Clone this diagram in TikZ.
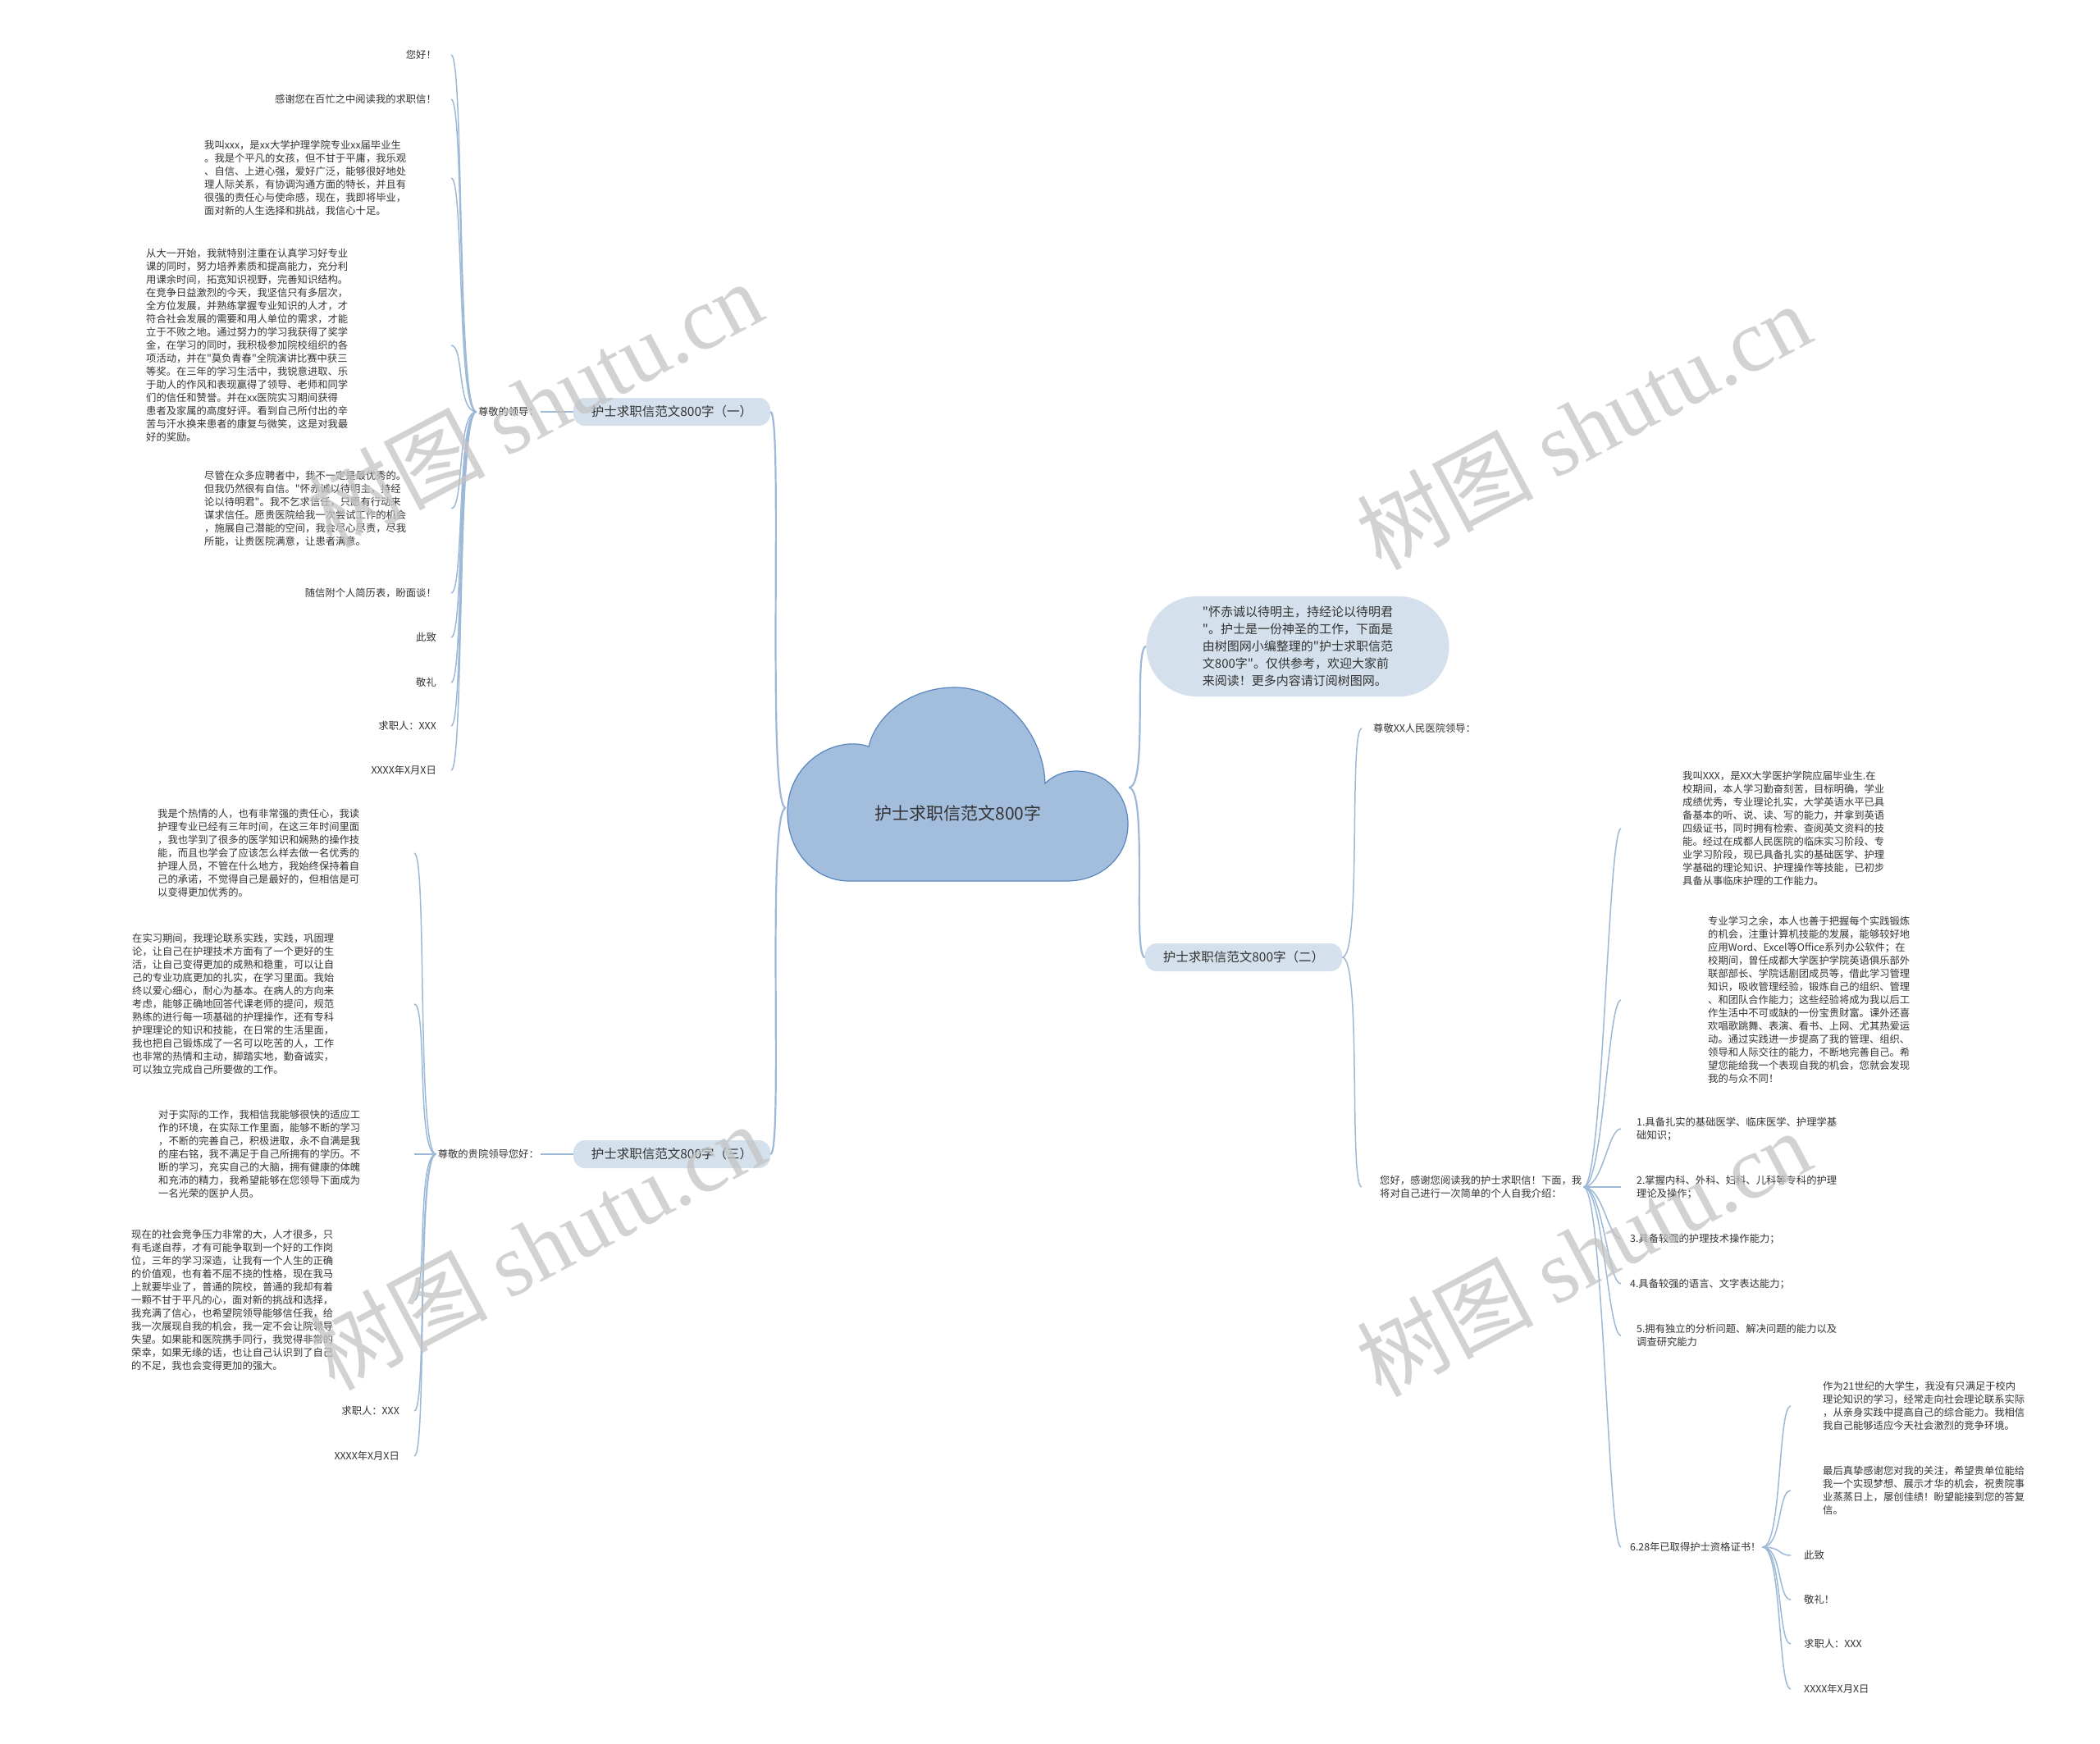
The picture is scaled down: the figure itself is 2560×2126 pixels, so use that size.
\documentclass[tikz,border=0pt]{standalone}
\usepackage{fontspec}
\newfontfamily\cjkfont{Noto Sans CJK SC}
\newfontfamily\wmserif{Liberation Serif}
\usepackage{tikz}
\usetikzlibrary{calc}
\definecolor{cloudfill}{HTML}{A3BEDC}
\definecolor{cloudline}{HTML}{5A86C0}
\definecolor{branchfill}{HTML}{D4E0EB}
\definecolor{linkblue}{HTML}{9DB9D7}
\definecolor{txtdark}{HTML}{333333}
\definecolor{wmgray}{HTML}{C4C4C4}
\tikzset{
  cloudtxt/.style={font=\cjkfont\fontsize{21}{26}\selectfont, text=txtdark},
  intronode/.style={fill=branchfill, rounded corners=61pt,
    minimum width=369pt, minimum height=122pt, align=left,
    font=\cjkfont\fontsize{15}{21}\selectfont, text=txtdark},
  branchnode/.style={fill=branchfill, rounded corners=14pt,
    minimum width=240pt, minimum height=34pt,
    font=\cjkfont\fontsize{15.5}{18}\selectfont, text=txtdark},
  leafnode/.style={font=\cjkfont\fontsize{12.3}{16}\selectfont, text=txtdark,
    inner sep=2pt, align=left},
  rootlink/.style={draw=linkblue, line width=2.2pt},
  linkline/.style={draw=linkblue, line width=1.5pt},
  toL/.style={to path={.. controls +(-24,0) and +(16,0) .. (\tikztotarget)}},
  toR/.style={to path={.. controls +(24,0) and +(-16,0) .. (\tikztotarget)}},
  wmark/.style={text=wmgray, opacity=0.75, rotate=28,
    font=\cjkfont\fontsize{108}{110}\selectfont}
}
\begin{document}
\cjkfont
\begin{tikzpicture}[x=1pt, y=-1pt]
  \fill[white] (0,0) rectangle (2560,2126);
  \useasboundingbox (0,0) rectangle (2560,2126);

  % central cloud
  \filldraw[fill=cloudfill, draw=cloudline, line width=1.2pt]
    (1035,1074) -- (1300,1074)
    .. controls (1345,1074) and (1376,1042) .. (1375,1003)
    .. controls (1374,966) and (1346,940) .. (1312,940)
    .. controls (1296,940) and (1283,946) .. (1274,955)
    .. controls (1272,895) and (1225,838) .. (1164,838)
    .. controls (1110,838) and (1068,872) .. (1059,910)
    .. controls (1018,896) and (960,930) .. (960,990)
    .. controls (960,1040) and (995,1074) .. (1035,1074) -- cycle;
  \node[cloudtxt] (root) at (1168,991) {护士求职信范文800字};
  \coordinate (rootL) at (958,985);
  \coordinate (rootR) at (1376,960);

  % first level
  \node[intronode] (intro) at (1582,788)
    {"怀赤诚以待明主，持经论以待明君\\"。护士是一份神圣的工作，下面是\\由树图网小编整理的"护士求职信范\\文800字"。仅供参考，欢迎大家前\\来阅读！更多内容请订阅树图网。};
  \node[branchnode] (b1) at (819,502) {护士求职信范文800字（一）};
  \node[branchnode] (b2) at (1516,1167) {护士求职信范文800字（二）};
  \node[branchnode] (b3) at (819,1407) {护士求职信范文800字（三）};

  % branch one
  \node[leafnode, anchor=east] (l1) at (659,502) {尊敬的领导：};
  \coordinate (lend1) at (550,0);
  \node[leafnode, anchor=east] (c1) at (534,67) {您好！};
  \node[leafnode, anchor=east] (c2) at (534,121) {感谢您在百忙之中阅读我的求职信！};
  \node[leafnode, anchor=west] (c3) at (247,217)
    {我叫xxx，是xx大学护理学院专业xx届毕业生\\。我是个平凡的女孩，但不甘于平庸，我乐观\\、自信、上进心强，爱好广泛，能够很好地处\\理人际关系，有协调沟通方面的特长，并且有\\很强的责任心与使命感，现在，我即将毕业，\\面对新的人生选择和挑战，我信心十足。};
  \node[leafnode, anchor=west] (c4) at (176,421)
    {从大一开始，我就特别注重在认真学习好专业\\课的同时，努力培养素质和提高能力，充分利\\用课余时间，拓宽知识视野，完善知识结构。\\在竞争日益激烈的今天，我坚信只有多层次，\\全方位发展，并熟练掌握专业知识的人才，才\\符合社会发展的需要和用人单位的需求，才能\\立于不败之地。通过努力的学习我获得了奖学\\金，在学习的同时，我积极参加院校组织的各\\项活动，并在"莫负青春"全院演讲比赛中获三\\等奖。在三年的学习生活中，我锐意进取、乐\\于助人的作风和表现赢得了领导、老师和同学\\们的信任和赞誉。并在xx医院实习期间获得\\患者及家属的高度好评。看到自己所付出的辛\\苦与汗水换来患者的康复与微笑，这是对我最\\好的奖励。};
  \node[leafnode, anchor=west] (c5) at (247,620)
    {尽管在众多应聘者中，我不一定是最优秀的。\\但我仍然很有自信。"怀赤诚以待明主，持经\\论以待明君"。我不乞求信任，只愿有行动来\\谋求信任。愿贵医院给我一次尝试工作的机会\\，施展自己潜能的空间，我会尽心尽责，尽我\\所能，让贵医院满意，让患者满意。};
  \node[leafnode, anchor=east] (c6) at (534,723) {随信附个人简历表，盼面谈！};
  \node[leafnode, anchor=east] (c7) at (534,777) {此致};
  \node[leafnode, anchor=east] (c8) at (534,832) {敬礼};
  \node[leafnode, anchor=east] (c9) at (534,885) {求职人：XXX};
  \node[leafnode, anchor=east] (c10) at (534,939) {XXXX年X月X日};

  % branch three
  \node[leafnode, anchor=east] (l3) at (659,1407) {尊敬的贵院领导您好：};
  \coordinate (lend3) at (505,0);
  \node[leafnode, anchor=west] (d1) at (190,1040)
    {我是个热情的人，也有非常强的责任心，我读\\护理专业已经有三年时间，在这三年时间里面\\，我也学到了很多的医学知识和娴熟的操作技\\能，而且也学会了应该怎么样去做一名优秀的\\护理人员，不管在什么地方，我始终保持着自\\己的承诺，不觉得自己是最好的，但相信是可\\以变得更加优秀的。};
  \node[leafnode, anchor=west] (d2) at (159,1224)
    {在实习期间，我理论联系实践，实践，巩固理\\论，让自己在护理技术方面有了一个更好的生\\活，让自己变得更加的成熟和稳重，可以让自\\己的专业功底更加的扎实，在学习里面。我始\\终以爱心细心，耐心为基本。在病人的方向来\\考虑，能够正确地回答代课老师的提问，规范\\熟练的进行每一项基础的护理操作，还有专科\\护理理论的知识和技能，在日常的生活里面，\\我也把自己锻炼成了一名可以吃苦的人，工作\\也非常的热情和主动，脚踏实地，勤奋诚实，\\可以独立完成自己所要做的工作。};
  \node[leafnode, anchor=west] (d3) at (191,1407)
    {对于实际的工作，我相信我能够很快的适应工\\作的环境，在实际工作里面，能够不断的学习\\，不断的完善自己，积极进取，永不自满是我\\的座右铭，我不满足于自己所拥有的学历。不\\断的学习，充实自己的大脑，拥有健康的体魄\\和充沛的精力，我希望能够在您领导下面成为\\一名光荣的医护人员。};
  \node[leafnode, anchor=west] (d4) at (158,1585)
    {现在的社会竞争压力非常的大，人才很多，只\\有毛遂自荐，才有可能争取到一个好的工作岗\\位，三年的学习深造，让我有一个人生的正确\\的价值观，也有着不屈不挠的性格，现在我马\\上就要毕业了，普通的院校，普通的我却有着\\一颗不甘于平凡的心，面对新的挑战和选择，\\我充满了信心，也希望院领导能够信任我，给\\我一次展现自我的机会，我一定不会让院领导\\失望。如果能和医院携手同行，我觉得非常的\\荣幸，如果无缘的话，也让自己认识到了自己\\的不足，我也会变得更加的强大。};
  \node[leafnode, anchor=east] (d5) at (489,1720) {求职人：XXX};
  \node[leafnode, anchor=east] (d6) at (489,1775) {XXXX年X月X日};

  % branch two
  \coordinate (rend0) at (1660,0);
  \coordinate (rend1) at (1976,0);
  \coordinate (rend2) at (2183,0);
  \node[leafnode, anchor=west] (r0) at (1672,888) {尊敬XX人民医院领导：};
  \node[leafnode, anchor=west] (r1) at (1680,1447)
    {您好，感谢您阅读我的护士求职信！下面，我\\将对自己进行一次简单的个人自我介绍：};
  \node[leafnode, anchor=west] (e1) at (2049,1010)
    {我叫XXX，是XX大学医护学院应届毕业生.在\\校期间，本人学习勤奋刻苦，目标明确，学业\\成绩优秀，专业理论扎实，大学英语水平已具\\备基本的听、说、读、写的能力，并拿到英语\\四级证书，同时拥有检索、查阅英文资料的技\\能。经过在成都人民医院的临床实习阶段、专\\业学习阶段，现已具备扎实的基础医学、护理\\学基础的理论知识、护理操作等技能，已初步\\具备从事临床护理的工作能力。};
  \node[leafnode, anchor=west] (e2) at (2080,1219)
    {专业学习之余，本人也善于把握每个实践锻炼\\的机会，注重计算机技能的发展，能够较好地\\应用Word、Excel等Office系列办公软件；在\\校期间，曾任成都大学医护学院英语俱乐部外\\联部部长、学院话剧团成员等，借此学习管理\\知识，吸收管理经验，锻炼自己的组织、管理\\、和团队合作能力；这些经验将成为我以后工\\作生活中不可或缺的一份宝贵财富。课外还喜\\欢唱歌跳舞、表演、看书、上网、尤其热爱运\\动。通过实践进一步提高了我的管理、组织、\\领导和人际交往的能力，不断地完善自己。希\\望您能给我一个表现自我的机会，您就会发现\\我的与众不同！};
  \node[leafnode, anchor=west] (e3) at (1993,1376)
    {1.具备扎实的基础医学、临床医学、护理学基\\础知识；};
  \node[leafnode, anchor=west] (e4) at (1993,1447)
    {2.掌握内科、外科、妇科、儿科等专科的护理\\理论及操作；};
  \node[leafnode, anchor=west] (e5) at (1985,1510) {3.具备较强的护理技术操作能力；};
  \node[leafnode, anchor=west] (e6) at (1985,1565) {4.具备较强的语言、文字表达能力；};
  \node[leafnode, anchor=west] (e7) at (1993,1628)
    {5.拥有独立的分析问题、解决问题的能力以及\\调查研究能力};
  \node[leafnode, anchor=west] (e8) at (1985,1886) {6.28年已取得护士资格证书！};
  \node[leafnode, anchor=west] (f1) at (2220,1714)
    {作为21世纪的大学生，我没有只满足于校内\\理论知识的学习，经常走向社会理论联系实际\\，从亲身实践中提高自己的综合能力。我相信\\我自己能够适应今天社会激烈的竞争环境。};
  \node[leafnode, anchor=west] (f2) at (2220,1817)
    {最后真挚感谢您对我的关注，希望贵单位能给\\我一个实现梦想、展示才华的机会，祝贵院事\\业蒸蒸日上，屡创佳绩！盼望能接到您的答复\\信。};
  \node[leafnode, anchor=west] (f3) at (2197,1896) {此致};
  \node[leafnode, anchor=west] (f4) at (2197,1950) {敬礼！};
  \node[leafnode, anchor=west] (f5) at (2197,2004) {求职人：XXX};
  \node[leafnode, anchor=west] (f6) at (2197,2059) {XXXX年X月X日};

  % connectors
  \draw[rootlink] (rootL) to[toL] (b1.east);
  \draw[rootlink] (rootL) to[toL] (b3.east);
  \draw[rootlink] (rootR) to[toR] (intro.west);
  \draw[rootlink] (rootR) to[toR] (b2.west);
  \draw[linkline] (b1.west) -- (l1.east);
  \foreach \nm in {c1,c2,c3,c4,c5,c6,c7,c8,c9,c10}
    \draw[linkline] (l1.west) to[toL] (\nm.east -| lend1);
  \draw[linkline] (b3.west) -- (l3.east);
  \foreach \nm in {d1,d2,d3,d4,d5,d6}
    \draw[linkline] (l3.west) to[toL] (\nm.east -| lend3);
  \draw[linkline] (b2.east) to[toR] (r0.west -| rend0);
  \draw[linkline] (b2.east) to[toR] (r1.west -| rend0);
  \foreach \nm in {e1,e2,e3,e4,e5,e6,e7,e8}
    \draw[linkline] (r1.east) to[toR] (\nm.west -| rend1);
  \foreach \nm in {f1,f2,f3,f4,f5,f6}
    \draw[linkline] (e8.east) to[toR] (\nm.west -| rend2);

  % watermark
  \node[wmark] (wm1) at (652,492) {树图 {\wmserif shutu.cn}};
  \node[wmark] (wm2) at (1930,519) {树图 {\wmserif shutu.cn}};
  \node[wmark] (wm3) at (655,1519) {树图 {\wmserif shutu.cn}};
  \node[wmark] (wm4) at (1930,1527) {树图 {\wmserif shutu.cn}};
\end{tikzpicture}
\end{document}
